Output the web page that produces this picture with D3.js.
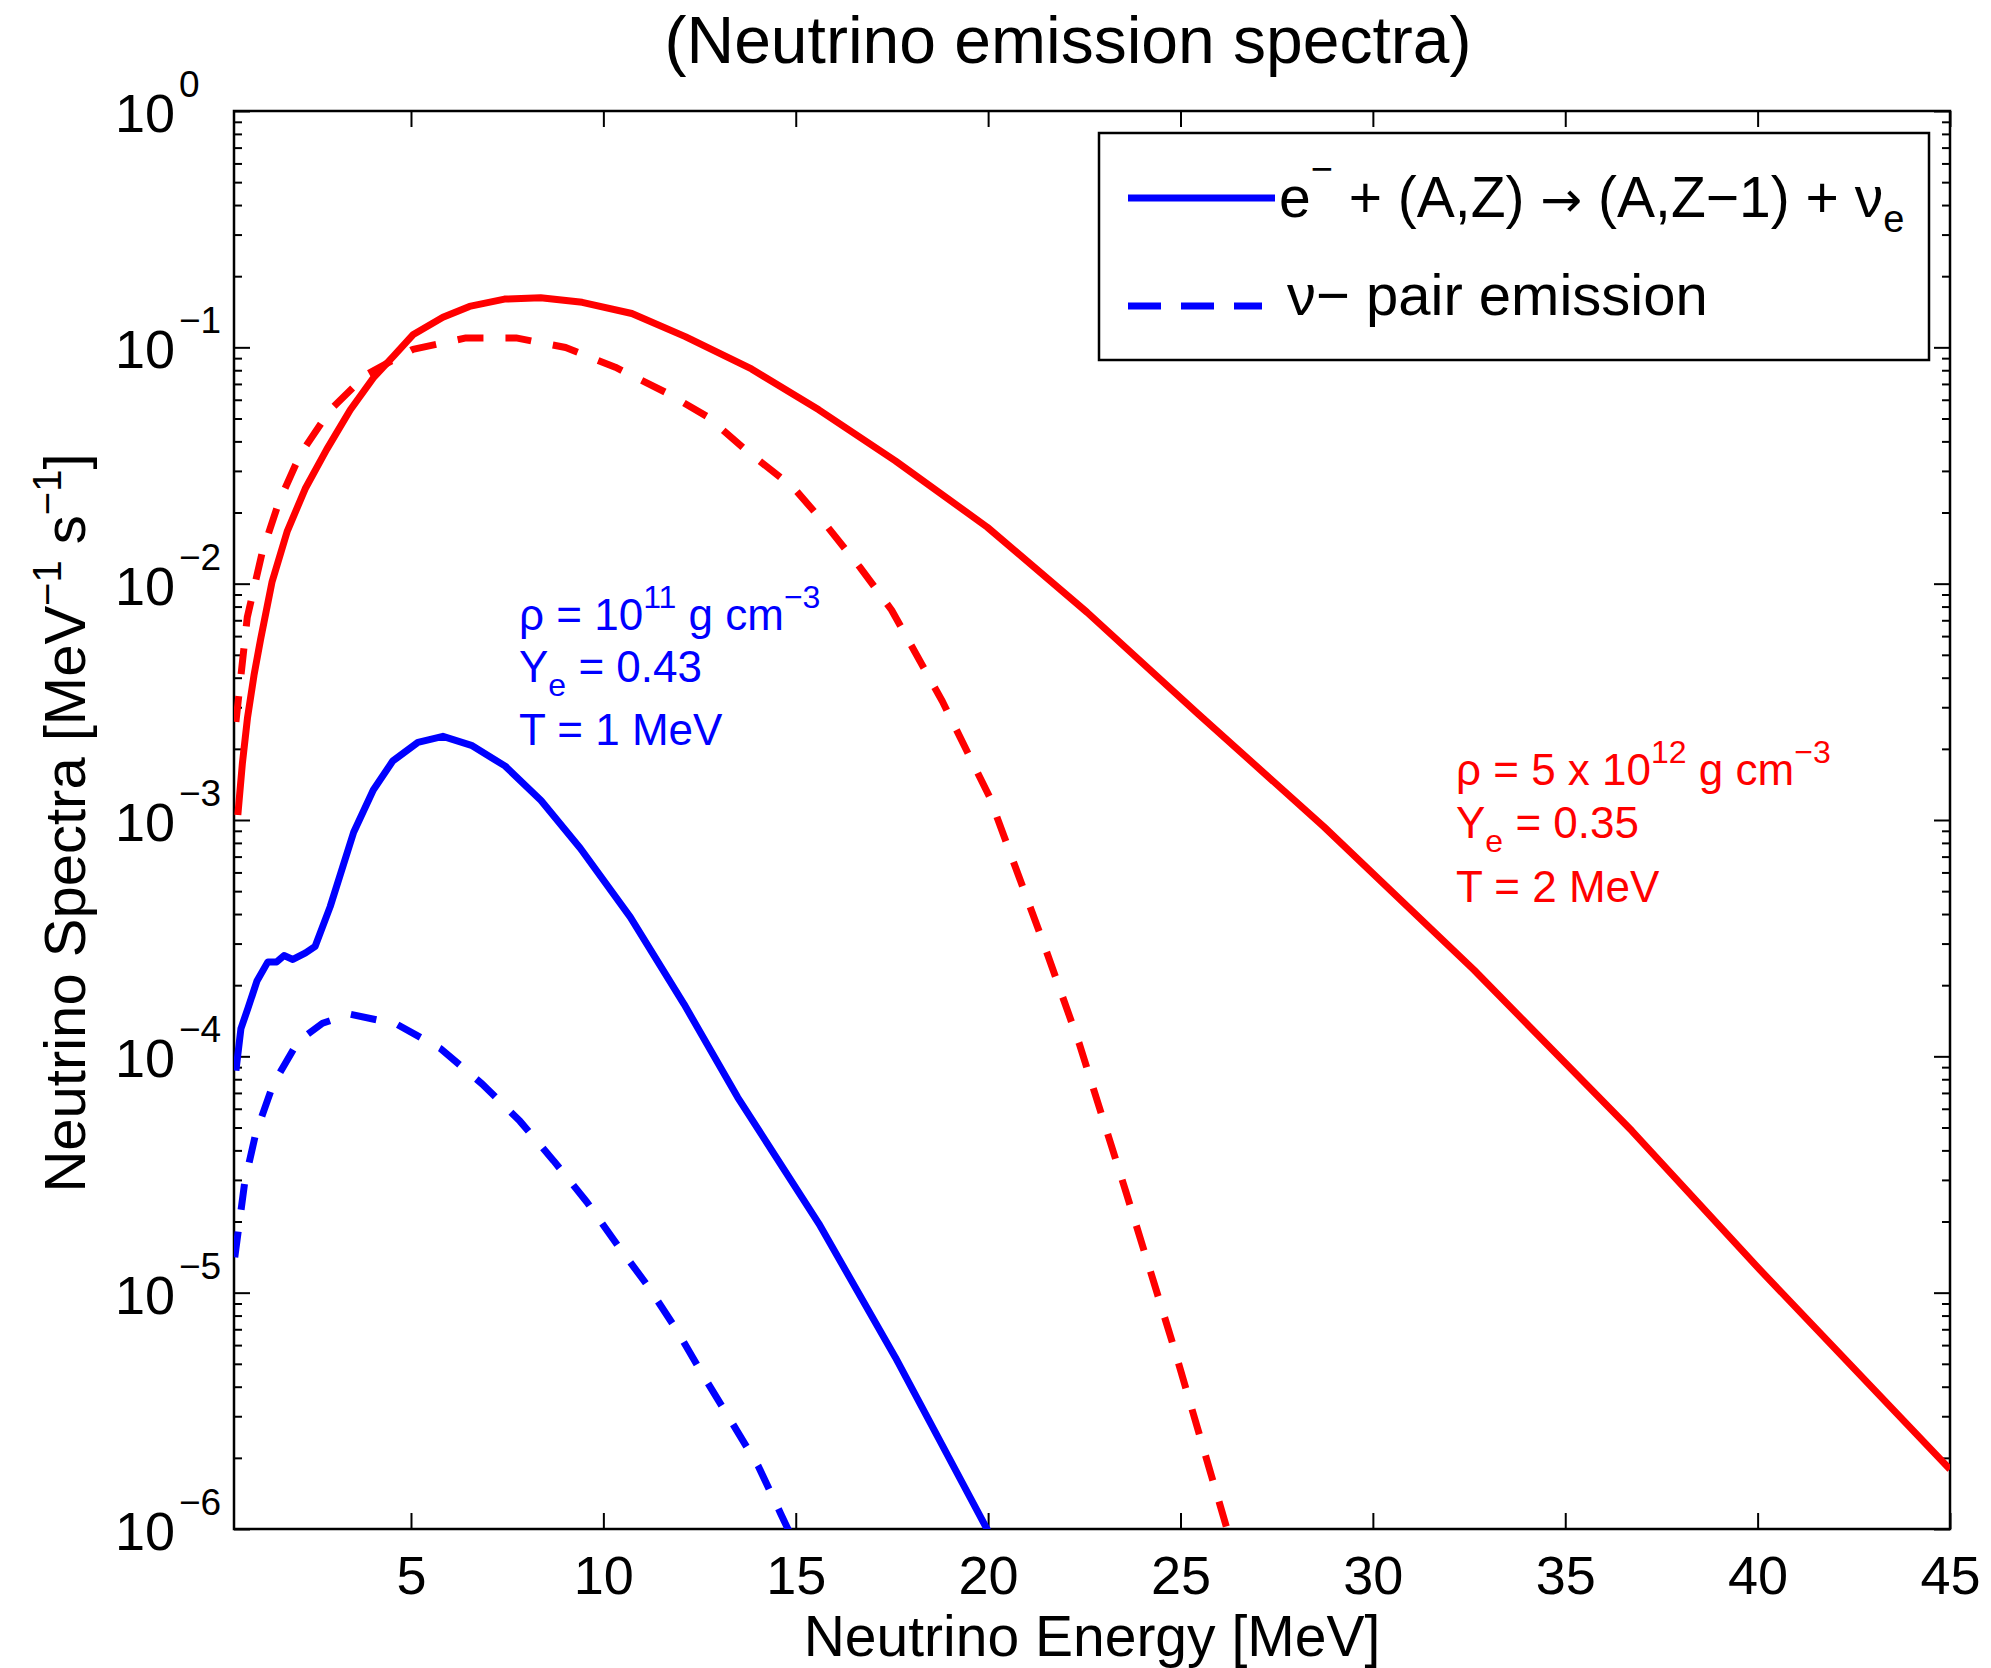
<!DOCTYPE html>
<html>
<head>
<meta charset="utf-8">
<script src="https://cdn.jsdelivr.net/npm/d3@7"></script>
<style>
  body { margin: 0; background: #fff; }
  svg text { font-family: "Liberation Sans", Arial, Helvetica, sans-serif; }
</style>
</head>
<body>
<svg id="chart" width="1991" height="1668"></svg>
<script>
// values: [energy MeV, spectrum]
var captureRho12 = [
  [0.5, 1.05e-3], [0.62, 1.75e-3], [0.75, 2.7e-3], [0.92, 4.1e-3], [1.09, 5.8e-3],
  [1.39, 0.0102], [1.78, 0.0166],
  [2.25, 0.0252], [2.81, 0.037], [3.42, 0.0543], [4.02, 0.0742], [4.54, 0.0915],
  [5.05, 0.113], [5.83, 0.134], [6.52, 0.149], [7.43, 0.160], [8.37, 0.162],
  [9.45, 0.155], [10.74, 0.139], [12.13, 0.111], [13.85, 0.081], [15.6, 0.0544],
  [17.59, 0.0331], [19.98, 0.01733], [22.57, 7.57e-3], [25.45, 2.82e-3],
  [28.73, 9.35e-4], [32.63, 2.32e-4], [36.73, 4.84e-5], [39.96, 1.30e-5], [45, 1.79e-6]
];
var pairRho12 = [
  [0.45, 2.6e-3], [0.745, 7.2e-3], [1.13, 0.0135], [1.56, 0.022], [2.12, 0.0352],
  [2.9, 0.0543], [3.85, 0.0769], [5.05, 0.0981], [6.43, 0.1096], [7.73, 0.1096],
  [9.02, 0.0998], [10.31, 0.0824], [11.61, 0.0646], [12.73, 0.0506], [13.68, 0.037],
  [14.96, 0.0253], [15.8, 0.0176], [16.68, 0.01167], [17.49, 7.74e-3], [18.81, 3.18e-3],
  [20.03, 1.26e-3], [21.45, 2.98e-4], [22.37, 1.13e-4], [23.61, 2.58e-5],
  [24.81, 6.0e-6], [25.97, 1.36e-6], [26.3, 8.9e-7]
];
var captureRho11 = [
  [0.45, 8.7e-5], [0.58, 1.31e-4], [0.77, 1.61e-4], [1.0, 2.09e-4], [1.28, 2.51e-4],
  [1.51, 2.51e-4], [1.7, 2.67e-4], [1.93, 2.57e-4], [2.26, 2.74e-4], [2.51, 2.92e-4],
  [2.9, 4.3e-4], [3.51, 8.87e-4], [4.02, 1.34e-3], [4.53, 1.78e-3], [5.18, 2.13e-3],
  [5.83, 2.26e-3], [6.57, 2.07e-3], [7.45, 1.69e-3], [8.38, 1.21e-3], [9.4, 7.59e-4],
  [10.7, 3.88e-4], [12.1, 1.66e-4], [13.49, 6.71e-5], [15.6, 1.96e-5],
  [17.59, 5.32e-6], [19.98, 9.93e-7], [20.1, 9.0e-7]
];
var pairRho11 = [
  [0.42, 1.41e-5], [0.68, 2.94e-5], [0.96, 4.68e-5], [1.42, 7.64e-5], [2.07, 1.16e-4],
  [2.7, 1.38e-4], [3.4, 1.51e-4], [4.62, 1.37e-4], [5.76, 1.08e-4], [6.85, 7.64e-5],
  [7.83, 5.32e-5], [8.71, 3.61e-5], [9.57, 2.42e-5], [10.38, 1.58e-5], [11.17, 1.06e-5],
  [11.91, 6.93e-6], [12.61, 4.42e-6], [13.32, 2.86e-6], [14.03, 1.84e-6],
  [14.6, 1.17e-6], [15.0, 8.5e-7]
];

var xTicks = [5, 10, 15, 20, 25, 30, 35, 40, 45];
var yExponents = [0, -1, -2, -3, -4, -5, -6];

var svg = d3.select("#chart");
var plotLeft = 234, plotRight = 1950, plotTop = 111, plotBottom = 1529;

var x = d3.scaleLinear().domain([0.4, 45]).range([plotLeft, plotRight]);
var y = d3.scaleLog().domain([1e-6, 1]).range([plotBottom, plotTop]);

// minor ticks 2..9 for each decade
var minors = [];
for (var d = -6; d < 0; d++) {
  for (var k = 2; k <= 9; k++) minors.push(k * Math.pow(10, d));
}

svg.append("defs").append("clipPath").attr("id", "plotclip")
  .append("rect").attr("x", plotLeft).attr("y", plotTop)
  .attr("width", plotRight - plotLeft).attr("height", plotBottom - plotTop);

function styleAxis(g) {
  g.select(".domain").remove();
  g.selectAll(".tick line").attr("stroke", "#000").attr("stroke-width", 2);
}

// ticks all point inward, on all four sides
svg.append("g").attr("transform", "translate(0," + plotBottom + ")")
  .call(d3.axisBottom(x).tickValues(xTicks).tickSizeInner(-16).tickSizeOuter(0).tickPadding(27))
  .call(styleAxis)
  .call(function (g) {
    g.selectAll("text").attr("font-size", 54).attr("fill", "#000")
      .attr("font-family", "Liberation Sans, Arial, sans-serif");
  });
svg.append("g").attr("transform", "translate(0," + plotTop + ")")
  .call(d3.axisTop(x).tickValues(xTicks).tickSizeInner(-16).tickSizeOuter(0).tickFormat(""))
  .call(styleAxis);

var yMajors = yExponents.map(function (e) { return Math.pow(10, e); });
svg.append("g").attr("transform", "translate(" + plotLeft + ",0)")
  .call(d3.axisLeft(y).tickValues(yMajors).tickSizeInner(-16).tickSizeOuter(0).tickFormat(""))
  .call(styleAxis);
svg.append("g").attr("transform", "translate(" + plotLeft + ",0)")
  .call(d3.axisLeft(y).tickValues(minors).tickSizeInner(-8).tickSizeOuter(0).tickFormat(""))
  .call(styleAxis);
svg.append("g").attr("transform", "translate(" + plotRight + ",0)")
  .call(d3.axisRight(y).tickValues(yMajors).tickSizeInner(-16).tickSizeOuter(0).tickFormat(""))
  .call(styleAxis);
svg.append("g").attr("transform", "translate(" + plotRight + ",0)")
  .call(d3.axisRight(y).tickValues(minors).tickSizeInner(-8).tickSizeOuter(0).tickFormat(""))
  .call(styleAxis);

// y tick labels as 10^n
var ylab = svg.append("g");
yExponents.forEach(function (e) {
  var yy = y(Math.pow(10, e));
  ylab.append("text").attr("x", 175).attr("y", yy + 21)
    .attr("text-anchor", "end").attr("font-size", 54).text("10");
  ylab.append("text").attr("x", 179).attr("y", yy - 14)
    .attr("font-size", 37).text(e === 0 ? "0" : "\u2212" + (-e));
});

// frame
svg.append("rect").attr("x", plotLeft).attr("y", plotTop)
  .attr("width", plotRight - plotLeft).attr("height", plotBottom - plotTop)
  .attr("fill", "none").attr("stroke", "#000").attr("stroke-width", 2.5);

var line = d3.line().x(function (d) { return x(d[0]); }).y(function (d) { return y(d[1]); });
var curves = [
  { data: captureRho12, color: "#ff0000", dash: null },
  { data: pairRho12, color: "#ff0000", dash: "26,22" },
  { data: captureRho11, color: "#0000ff", dash: null },
  { data: pairRho11, color: "#0000ff", dash: "26,22" }
];
var plot = svg.append("g").attr("clip-path", "url(#plotclip)");
curves.forEach(function (c) {
  plot.append("path").datum(c.data)
    .attr("d", line)
    .attr("fill", "none")
    .attr("stroke", c.color)
    .attr("stroke-width", 7)
    .attr("stroke-linejoin", "round")
    .attr("stroke-dasharray", c.dash);
});

// legend
var lg = svg.append("g");
lg.append("rect").attr("x", 1099).attr("y", 133).attr("width", 830).attr("height", 227)
  .attr("fill", "#fff").attr("stroke", "#000").attr("stroke-width", 2.5);
lg.append("line").attr("x1", 1128).attr("x2", 1275).attr("y1", 198).attr("y2", 198)
  .attr("stroke", "#0000ff").attr("stroke-width", 7);
lg.append("line").attr("x1", 1128).attr("x2", 1262).attr("y1", 306).attr("y2", 306)
  .attr("stroke", "#0000ff").attr("stroke-width", 7).attr("stroke-dasharray", "33,20");
var t1 = lg.append("text").attr("x", 1279).attr("y", 217).attr("font-size", 57);
t1.append("tspan").text("e");
t1.append("tspan").attr("dy", -35).attr("font-size", 38).text("\u2212");
t1.append("tspan").attr("dy", 35).text("  + (A,Z) ");
t1.append("tspan").attr("font-family", "DejaVu Sans").attr("font-size", 50).text("\u2192");
t1.append("tspan").text(" (A,Z\u22121) + \u03bd");
t1.append("tspan").attr("dy", 15).attr("font-size", 38).text("e");
lg.append("text").attr("x", 1287).attr("y", 315).attr("font-size", 58)
  .text("\u03bd\u2212 pair emission");

// condition annotations
function note(x0, ys, color, rhoMain, rhoExp, ye, temp) {
  var g = svg.append("g").attr("fill", color).attr("font-size", 44);
  var r = g.append("text").attr("x", x0).attr("y", ys[0]);
  r.append("tspan").text("\u03c1 = " + rhoMain);
  r.append("tspan").attr("dy", -22).attr("font-size", 32).text(rhoExp);
  r.append("tspan").attr("dy", 22).text(" g cm");
  r.append("tspan").attr("dy", -22).attr("font-size", 32).text("\u22123");
  var s = g.append("text").attr("x", x0).attr("y", ys[1]);
  s.append("tspan").text("Y");
  s.append("tspan").attr("dy", 14).attr("font-size", 32).text("e");
  s.append("tspan").attr("dy", -14).text(" = " + ye);
  g.append("text").attr("x", x0).attr("y", ys[2]).text("T = " + temp + " MeV");
}
note(519, [630, 682, 745], "#0000ff", "10", "11", "0.43", "1");
note(1456, [785, 838, 902], "#ff0000", "5 x 10", "12", "0.35", "2");

// titles
svg.append("text").attr("x", 1068).attr("y", 63).attr("text-anchor", "middle")
  .attr("font-size", 66).text("(Neutrino emission spectra)");
svg.append("text").attr("x", 1092).attr("y", 1656).attr("text-anchor", "middle")
  .attr("font-size", 57).text("Neutrino Energy [MeV]");
var yl = svg.append("text").attr("transform", "translate(85,823) rotate(-90)")
  .attr("text-anchor", "middle").attr("font-size", 58);
yl.append("tspan").text("Neutrino Spectra [MeV");
yl.append("tspan").attr("dy", -24).attr("font-size", 40).text("\u22121");
yl.append("tspan").attr("dy", 24).text(" s");
yl.append("tspan").attr("dy", -24).attr("font-size", 40).text("\u22121");
yl.append("tspan").attr("dy", 24).text("]");
</script>
</body>
</html>
